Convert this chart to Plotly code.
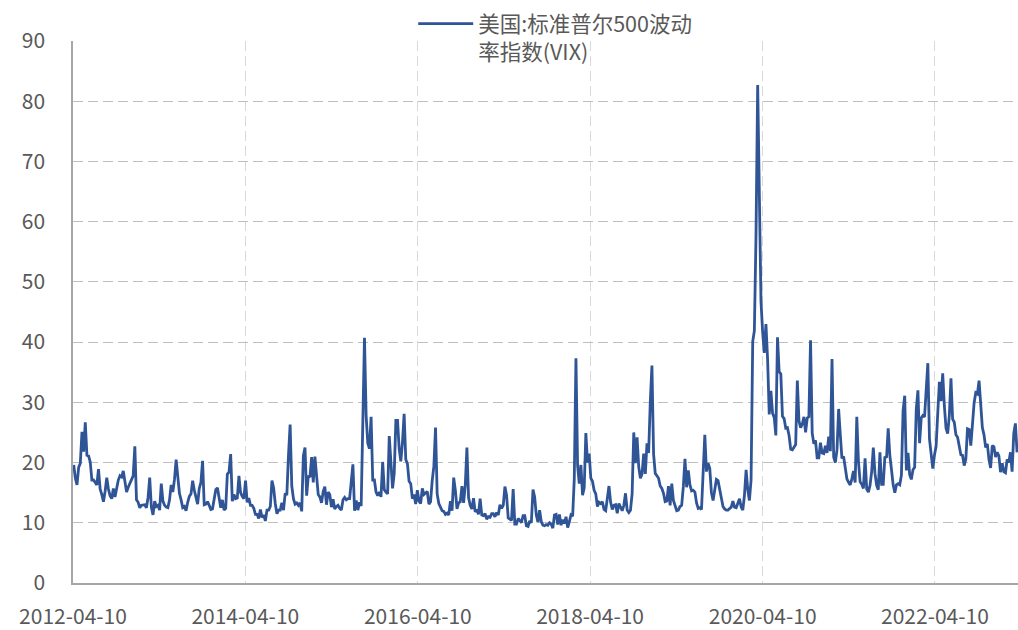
import pandas as pd
import plotly.graph_objects as go

# Weekly closes of the CBOE VIX index, one list per calendar year
vix_2012 = [19.6, 17.4, 16.3, 19.2, 19.9, 25.1, 21.8, 26.7, 21.2, 21.1, 20.1, 17.1,
            17.1, 16.7, 16.3, 18.9, 15.6, 14.7, 13.5, 15.2, 17.5, 15.6, 14.5, 14.0,
            15.7, 14.3, 16.1, 17.1, 17.8, 17.6, 18.6, 16.4, 15.1, 15.9, 16.6, 17.4,
            17.8, 22.7]
vix_2013 = [13.8, 13.4, 12.5, 12.9, 12.9, 13.0, 12.5, 14.2, 17.5, 12.6, 11.3, 13.6,
            12.7, 12.9, 12.1, 16.5, 13.6, 12.9, 12.6, 12.5, 13.8, 16.3, 15.1, 17.2,
            20.5, 16.9, 14.9, 13.8, 12.5, 12.7, 12.0, 13.4, 14.4, 14.8, 17.0, 15.4,
            14.2, 13.1, 15.7, 16.7, 20.3, 13.0, 13.1, 13.5, 12.9, 12.2, 12.3, 13.7,
            15.5, 15.8, 13.8, 12.5]
vix_2014 = [13.8, 12.1, 12.4, 18.1, 18.4, 21.4, 13.6, 14.7, 14.0, 14.1, 17.8, 15.0,
            14.4, 14.0, 17.0, 13.4, 14.1, 12.9, 12.9, 12.4, 11.4, 11.4, 10.7, 12.2,
            10.9, 11.3, 10.3, 12.1, 12.1, 12.7, 17.0, 15.8, 13.2, 11.5, 12.1, 12.1,
            13.3, 12.1, 14.9, 14.6, 21.2, 26.3, 16.1, 14.0, 13.1, 13.3, 12.9, 13.3,
            11.9, 21.1, 22.5, 14.5]
vix_2015 = [17.8, 17.6, 20.9, 16.7, 21.0, 17.3, 14.7, 14.3, 13.3, 15.2, 16.0, 13.0,
            15.1, 14.7, 12.6, 13.9, 12.3, 12.7, 12.9, 12.4, 12.1, 13.8, 14.2, 13.8,
            14.0, 14.0, 16.8, 19.7, 12.0, 13.7, 12.1, 13.4, 12.8, 28.0, 40.7, 27.8,
            23.2, 22.3, 27.6, 17.1, 17.1, 15.1, 14.5, 15.1, 14.3, 20.1, 15.5, 15.1,
            14.8, 24.4, 20.7, 15.7]
vix_2016 = [18.2, 27.0, 27.0, 22.3, 20.2, 23.4, 28.1, 20.5, 19.8, 16.9, 16.5, 14.0,
            14.7, 13.1, 15.4, 13.6, 13.2, 15.7, 14.7, 15.0, 15.2, 13.1, 13.5, 17.0,
            19.4, 25.8, 14.8, 13.2, 12.7, 12.0, 11.9, 11.4, 11.6, 11.3, 13.6, 12.0,
            17.5, 15.4, 12.3, 13.3, 13.5, 16.1, 13.3, 16.2, 22.5, 14.2, 12.9, 12.3,
            14.1, 11.8, 12.2, 11.4, 14.0]
vix_2017 = [11.3, 11.2, 11.5, 10.6, 11.0, 10.9, 11.5, 11.5, 11.0, 11.7, 11.3, 13.0,
            12.4, 12.9, 16.0, 14.6, 10.8, 10.6, 10.4, 15.6, 9.8, 9.8, 10.7, 10.4,
            10.0, 11.2, 11.2, 9.5, 9.4, 10.3, 10.0, 15.5, 14.3, 11.3, 10.1, 12.1,
            10.2, 9.6, 9.5, 9.7, 9.6, 10.0, 9.8, 9.1, 11.3, 11.4, 9.7, 11.4,
            9.6, 10.5, 9.9, 11.0]
vix_2018 = [9.2, 10.2, 11.3, 11.1, 17.3, 37.3, 19.5, 16.5, 19.6, 14.6, 15.8, 24.9,
            20.0, 21.5, 17.4, 16.9, 15.4, 14.8, 12.7, 13.4, 13.2, 13.5, 12.2, 12.0,
            13.8, 16.1, 13.4, 12.2, 12.9, 13.0, 11.6, 13.2, 12.6, 12.0, 12.9, 14.9,
            12.1, 11.7, 12.1, 14.8, 25.0, 19.9, 24.2, 19.3, 17.4, 18.1, 21.5, 18.1,
            23.2, 21.6, 30.1, 36.1]
vix_2019 = [21.4, 18.2, 17.8, 17.4, 16.1, 15.7, 14.9, 13.5, 13.6, 16.1, 12.9, 16.5,
            13.7, 12.8, 12.0, 12.1, 12.7, 12.9, 16.0, 20.6, 15.9, 18.7, 16.3, 15.3,
            15.4, 15.1, 13.3, 12.4, 12.5, 12.2, 17.6, 24.6, 18.5, 19.9, 19.0, 15.0,
            13.7, 15.3, 17.2, 17.0, 15.6, 14.3, 12.7, 12.3, 12.1, 12.1, 12.3, 12.6,
            13.6, 12.6, 12.5, 13.4]
vix_2020 = [14.0, 12.6, 12.1, 14.6, 18.8, 15.5, 13.7, 17.1, 40.1, 41.9, 57.8, 82.7,
            65.5, 46.8, 41.7, 38.2, 43.0, 37.2, 28.0, 31.9, 28.2, 27.5, 24.5, 40.8,
            35.1, 34.7, 27.7, 27.3, 25.7, 25.8, 24.5, 22.2, 22.1, 22.5, 23.0, 33.6,
            26.9, 25.8, 26.4, 27.6, 25.0, 27.4, 27.6, 40.3, 24.9, 23.1, 23.7, 20.8,
            20.8, 23.3, 21.6, 21.5]
vix_2021 = [22.8, 21.6, 24.3, 21.9, 37.2, 20.9, 20.0, 22.1, 28.9, 24.7, 20.7, 21.0,
            18.9, 17.3, 16.7, 16.3, 17.3, 18.6, 16.7, 27.6, 20.2, 16.8, 16.4, 15.7,
            20.7, 15.6, 15.1, 16.2, 18.5, 22.5, 18.2, 16.2, 15.5, 21.7, 16.4, 16.4,
            21.0, 20.8, 25.7, 21.2, 18.8, 16.3, 15.0, 16.3, 16.5, 16.3, 17.9, 28.6,
            31.1, 18.7, 21.6, 18.0, 17.2]
vix_2022 = [18.8, 19.2, 28.9, 32.0, 23.2, 27.4, 27.8, 27.6, 32.0, 36.5, 23.9, 20.8,
            19.0, 21.2, 22.7, 28.2, 33.4, 30.2, 34.8, 29.4, 25.7, 24.8, 27.8, 34.0,
            27.2, 26.7, 24.6, 24.2, 23.0, 21.3, 21.2, 19.5, 20.6, 25.6, 25.5, 22.8,
            26.3, 29.9, 31.6, 31.4, 33.6, 29.7, 25.8, 24.6, 22.5, 23.1, 20.5, 19.1,
            22.8, 22.6, 20.9, 21.7]
vix_2023 = [21.1, 18.4, 19.9, 18.5, 18.3, 20.5, 20.0, 21.7, 18.5, 24.8, 26.5, 21.7]

# First weekly observation (Friday) of each yearly list
first_fridays = ["2012-04-13", "2013-01-04", "2014-01-03", "2015-01-02", "2016-01-01",
                 "2017-01-06", "2018-01-05", "2019-01-04", "2020-01-03", "2021-01-01",
                 "2022-01-07", "2023-01-06"]
yearly_values = [vix_2012, vix_2013, vix_2014, vix_2015, vix_2016, vix_2017,
                 vix_2018, vix_2019, vix_2020, vix_2021, vix_2022, vix_2023]

tick_dates = ["2012-04-10", "2014-04-10", "2016-04-10", "2018-04-10",
              "2020-04-10", "2022-04-10"]
series_name = "美国:标准普尔500波动<br>率指数(VIX)"

dates, values = [], []
for start, vals in zip(first_fridays, yearly_values):
    dates.extend(pd.date_range(start, periods=len(vals), freq="W-FRI"))
    values.extend(vals)

FONT = "Noto Sans CJK SC, Noto Sans, sans-serif"
TEXT = "#595959"

fig = go.Figure()
fig.add_trace(go.Scatter(
    x=dates, y=values, mode="lines", name=series_name,
    line=dict(color="#2F5597", width=2.8),
))

fig.update_layout(
    width=1018, height=630,
    margin=dict(l=73, r=0, t=41, b=43),
    paper_bgcolor="white", plot_bgcolor="white",
    font=dict(family=FONT, size=21, color=TEXT),
    showlegend=True,
    legend=dict(x=0.36, y=1.07, xanchor="left", yanchor="top",
                bgcolor="rgba(0,0,0,0)", valign="top", itemwidth=55,
                font=dict(family=FONT, size=21.5, color=TEXT)),
)
fig.update_xaxes(
    type="date", range=["2012-04-10", "2023-03-28"],
    tickvals=tick_dates, ticktext=tick_dates,
    showgrid=True, gridcolor="#D9D9D9", griddash="10px,5px", gridwidth=1.3,
    showline=True, linecolor="#A6A6A6", linewidth=1.5,
    ticks="outside", ticklen=14, tickcolor="rgba(0,0,0,0)",
    zeroline=False,
)
fig.update_yaxes(
    range=[0, 90], dtick=10,
    showgrid=True, gridcolor="#BFBFBF", griddash="10px,5px", gridwidth=1.3,
    showline=True, linecolor="#A6A6A6", linewidth=1.5,
    ticks="outside", ticklen=22, tickcolor="rgba(0,0,0,0)",
    zeroline=False,
)

fig.write_html("out.html")
